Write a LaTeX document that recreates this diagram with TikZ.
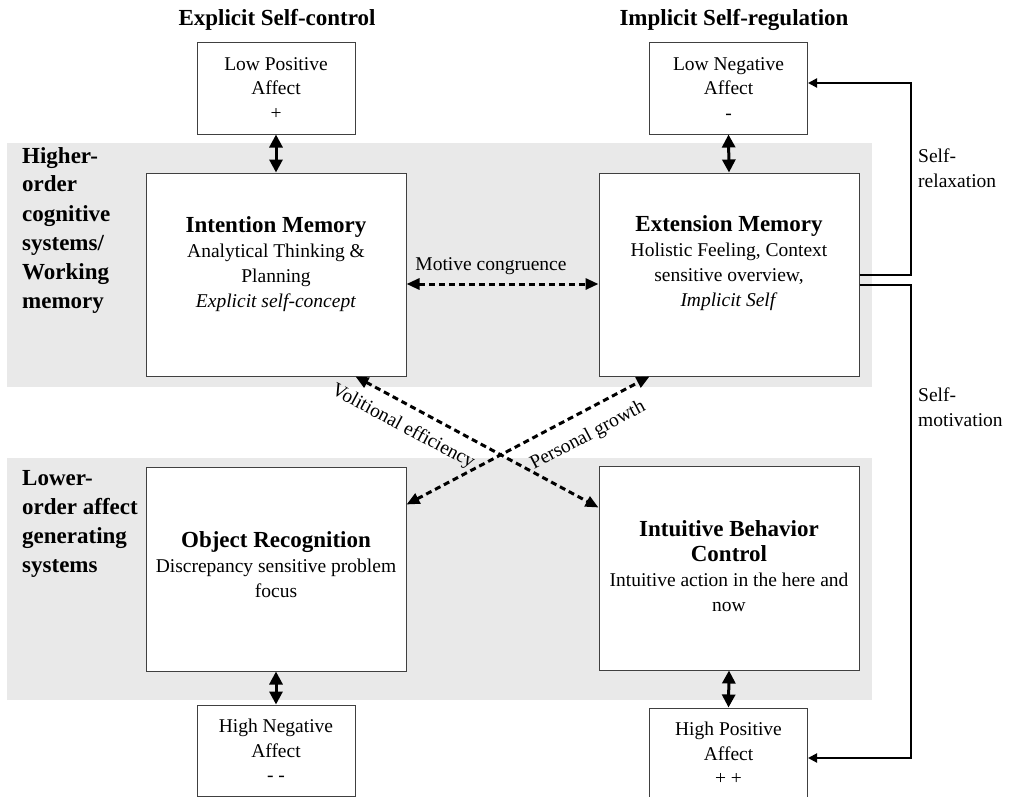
\documentclass[tikz,border=0pt]{standalone}
\usepackage{fontspec}
\setmainfont{Liberation Serif}
\usetikzlibrary{arrows.meta}
\definecolor{bandgray}{HTML}{E9E9E9}
\begin{document}
\begin{tikzpicture}[x=1pt,y=-1pt,
  band/.style={fill=bandgray},
  bigbox/.style={draw=black!75, line width=1pt, fill=white, minimum width=260pt, minimum height=203pt, inner sep=0pt},
  smallbox/.style={draw=black!75, line width=1pt, fill=white, minimum width=158pt, minimum height=91pt, inner sep=0pt,
    align=center, font=\fontsize{19.5}{24.5}\selectfont},
  boxtext/.style={align=center, font=\fontsize{19.5}{25}\selectfont, inner sep=0pt},
  hdr/.style={font=\fontsize{23}{27}\selectfont\bfseries, inner sep=0pt},
  side/.style={font=\fontsize{23}{29}\selectfont\bfseries, align=left, anchor=west, inner sep=0pt},
  lbl/.style={font=\fontsize{19.5}{24.5}\selectfont, inner sep=0pt},
  dbl/.style={line width=3pt, {Triangle[length=13pt,width=13pt]}-{Triangle[length=13pt,width=13pt]}},
  dashdbl/.style={line width=3pt, dash pattern=on 6pt off 4pt, {Triangle[length=13pt,width=11pt]}-{Triangle[length=13pt,width=11pt]}},
  feedback/.style={line width=2pt, -{Triangle[length=9pt,width=9pt]}}
]
\useasboundingbox (0,0) rectangle (1011,797);

% background bands for the two system levels
\fill[band] (7,143) rectangle (872,387);
\fill[band] (7,458) rectangle (872,700);

% column headings
\node[hdr] (hexp) at (277,20) {Explicit Self-control};
\node[hdr] (himp) at (734,20) {Implicit Self-regulation};

% level labels
\node[side] (lhigh) at (22,230) {Higher-\\order\\cognitive\\systems/\\Working\\memory};
\node[side] (llow) at (22,524) {Lower-\\order affect\\generating\\systems};

% affect boxes
\node[smallbox] (lpa) at (276,88.5) {Low Positive\\Affect\\+};
\node[smallbox] (lna) at (728.5,88.5) {Low Negative\\Affect\\-};
\node[smallbox] (hna) at (276,750.5) {High Negative\\Affect\\- -};
\node[smallbox] (hpa) at (728.5,753.5) {High Positive\\Affect\\+ +};

% system boxes
\node[bigbox] (im) at (276,274.5) {};
\node[bigbox] (em) at (729,274.5) {};
\node[bigbox, minimum height=204pt] (or) at (276,569) {};
\node[bigbox, minimum height=204pt] (ibc) at (729,568) {};

\node[boxtext] (imt) at (276,264.5) {{\fontsize{23}{26}\selectfont\bfseries Intention Memory}\\Analytical Thinking \&\\Planning\\\textit{Explicit self-concept}};
\node[boxtext] (emt) at (729,263) {{\fontsize{23}{26}\selectfont\bfseries Extension Memory}\\Holistic Feeling, Context\\sensitive overview,\\\textit{Implicit Self}};
\node[boxtext] (ort) at (276,564.5) {{\fontsize{23}{26}\selectfont\bfseries Object Recognition}\\Discrepancy sensitive problem\\focus};
\node[boxtext] (ibct) at (729,566) {{\fontsize{23}{27}\selectfont\bfseries Intuitive Behavior}\\{\fontsize{23}{27}\selectfont\bfseries Control}\\Intuitive action in the here and\\now};

% vertical links between affect and systems
\draw[dbl] (lpa.south) -- (im.north);
\draw[dbl] (lna.south) -- (em.north);
\draw[dbl] (or.south) -- (hna.north);
\draw[dbl] (ibc.south) -- (hpa.north);

% dashed interactions
\draw[dashdbl] (im.east |- 0,284) -- (em.west |- 0,284);
\node[lbl] (mc) at (491,266) {Motive congruence};

\draw[dashdbl] ([xshift=-51pt]im.south east) -- ([yshift=-42pt]ibc.north west);
\draw[dashdbl] ([yshift=-38pt]or.north east) -- ([xshift=51pt]em.south west);
\node[lbl, rotate=-28] (ve) at (403,427) {Volitional efficiency};
\node[lbl, rotate=28] (pg) at (588,436) {Personal growth};

% self-regulation feedback loops
\coordinate (r1) at (911,83);
\coordinate (r2) at (911,758);
\draw[feedback] (em.east) -- (em.east -| r1) -- (r1) -- (r1 -| lna.east);
\draw[feedback] ([yshift=-10pt]em.east) -- ([yshift=-10pt]em.east -| r2) -- (r2) -- (r2 -| hpa.east);
\node[lbl, align=left, anchor=west] (srel) at (918,168) {Self-\\relaxation};
\node[lbl, align=left, anchor=west] (smot) at (918,407) {Self-\\motivation};
\end{tikzpicture}
\end{document}
